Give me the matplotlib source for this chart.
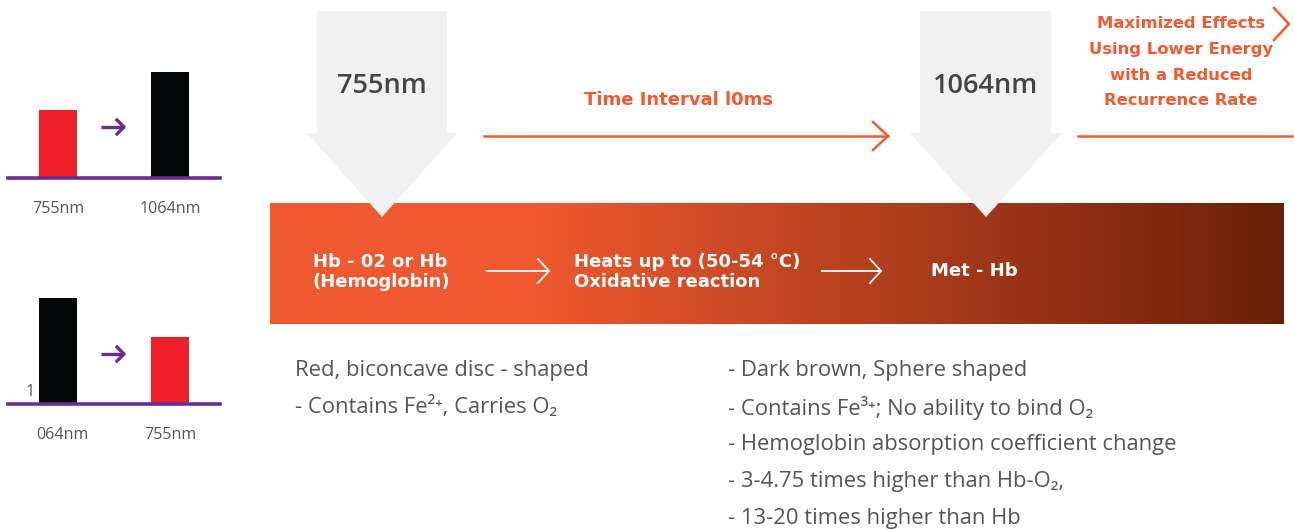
import matplotlib
matplotlib.use("Agg")
import matplotlib.pyplot as plt
import numpy as np
from matplotlib.colors import LinearSegmentedColormap
from matplotlib.patches import Polygon

# ---- data ----
top_labels = ["755nm", "1064nm"]
top_values = [0.64, 1.00]
top_colors = ["#ee1f2b", "#050607"]
bot_labels = ["064nm", "755nm"]
bot_values = [1.00, 0.63]
bot_colors = ["#050607", "#ee1f2b"]

wavelength_a = "755nm"
wavelength_b = "1064nm"
interval_text = "Time Interval l0ms"
effects_text = ["Maximized Effects", "Using Lower Energy", "with a Reduced", "Recurrence Rate"]
stage_texts = ["Hb - 02 or Hb\n(Hemoglobin)", "Heats up to (50-54 °C)\nOxidative reaction", "Met - Hb"]
left_notes = ["Red, biconcave disc - shaped", "- Contains Fe²⁺, Carries O₂"]
right_notes = ["- Dark brown, Sphere shaped",
               "- Contains Fe³⁺; No ability to bind O₂",
               "- Hemoglobin absorption coefficient change",
               "- 3-4.75 times higher than Hb-O₂,",
               "- 13-20 times higher than Hb"]

W, H = 1294, 529
ORANGE = "#f15a31"
PURPLE = "#6a2c8f"
GRAY_TXT = "#555555"
ARROW_GRAY = "#f1f1f2"
FONT_B = ["DejaVu Sans"]
FONT_R = ["Open Sans", "DejaVu Sans"]

fig = plt.figure(figsize=(W / 100, H / 100), dpi=100)
ax = fig.add_axes([0, 0, 1, 1])
ax.set_xlim(0, W)
ax.set_ylim(H, 0)
ax.axis("off")

# ---- gradient band ----
bx0, bx1, by0, by1 = 270, 1284, 203, 324
cmap = LinearSegmentedColormap.from_list(
    "band", [(0, "#f15a31"), (0.26, "#f0592f"), (0.64, "#ab3c1c"), (1.0, "#6a1f07")])
grad = np.linspace(0, 1, 512)[None, :]
ax.imshow(grad, extent=(bx0, bx1, by1, by0), cmap=cmap, aspect="auto", zorder=1)

# ---- grey down arrows ----
def down_arrow(xl, xr, hl, hr, top, neck, tip):
    xc = (hl + hr) / 2
    pts = [(xl, top), (xr, top), (xr, neck), (hr, neck), (xc, tip), (hl, neck), (xl, neck)]
    ax.add_patch(Polygon(pts, closed=True, facecolor=ARROW_GRAY, edgecolor="none", zorder=2))
    return xc

xa = down_arrow(317, 447, 307, 457, 11, 133, 217)
xb = down_arrow(920, 1051, 910, 1062, 11, 133, 217)
ax.text(xa, 86, wavelength_a, ha="center", va="center", fontsize=19.5, color="#454545",
        family=FONT_R, weight="semibold", zorder=3)
ax.text(xb, 86, wavelength_b, ha="center", va="center", fontsize=19.5, color="#454545",
        family=FONT_R, weight="semibold", zorder=3)

# ---- orange timeline ----
ax.text(678, 100, interval_text, ha="center", va="center", fontsize=13, color=ORANGE,
        family=FONT_B, weight="bold", zorder=3)
ax.plot([484, 888], [136, 136], color=ORANGE, lw=1.8, zorder=3)
ax.plot([873, 888, 873], [122, 136, 150], color=ORANGE, lw=1.8, zorder=3)
ax.plot([1078, 1292], [136, 136], color=ORANGE, lw=1.8, zorder=3)
ax.plot([1274, 1289, 1274], [8, 24, 40], color=ORANGE, lw=1.8, zorder=3)
for i, t in enumerate(effects_text):
    ax.text(1181, 24 + 25.6 * i, t, ha="center", va="center", fontsize=11.8, color=ORANGE,
            family=FONT_B, weight="bold", zorder=3)

# ---- band texts ----
ax.text(313, 272, stage_texts[0], ha="left", va="center", fontsize=13, color="white",
        family=FONT_B, weight="bold", linespacing=1.15, zorder=3)
ax.text(574, 272, stage_texts[1], ha="left", va="center", fontsize=13, color="white",
        family=FONT_B, weight="bold", linespacing=1.15, zorder=3)
ax.text(931, 271, stage_texts[2], ha="left", va="center", fontsize=13, color="white",
        family=FONT_B, weight="bold", zorder=3)
for x0, x1 in [(487, 549), (822, 881)]:
    ax.plot([x0, x1], [271, 271], color="white", lw=1.3, zorder=3)
    ax.plot([x1 - 11, x1, x1 - 11], [259, 271, 283], color="white", lw=1.3, zorder=3)

# ---- notes ----
for i, t in enumerate(left_notes):
    ax.text(295, 370.5 + 37 * i, t, ha="left", va="center", fontsize=15.8, color=GRAY_TXT, family=FONT_R)
for i, t in enumerate(right_notes):
    ax.text(728, 370.5 + 37 * i, t, ha="left", va="center", fontsize=15.8, color=GRAY_TXT, family=FONT_R)

# ---- small bar charts ----
def bar_panel(base_y, values, colors):
    x_left, x_right = 8, 220
    height_px = 120
    a = fig.add_axes([x_left / W, (H - base_y) / H, (x_right - x_left) / W, height_px / H])
    unit = 112.0
    lo = -50 / unit
    a.set_xlim(lo, lo + (x_right - x_left) / unit)
    a.set_ylim(0, 1.0 * height_px / 106)
    a.bar(range(len(values)), values, width=38 / unit, color=colors, zorder=2)
    a.axhline(0, color=PURPLE, lw=2.6, clip_on=False, zorder=3)
    a.axis("off")
    return a

def small_arrow(y):
    ax.plot([101, 124], [y, y], color=PURPLE, lw=2.4, zorder=3, solid_capstyle="butt")
    ax.plot([117, 124, 117], [y - 7, y, y + 7], color=PURPLE, lw=2.4, zorder=3)

bar_panel(178, top_values, top_colors)
small_arrow(127)
ax.text(58, 209, top_labels[0], ha="center", va="center", fontsize=11.6, color=GRAY_TXT, family=FONT_R)
ax.text(170, 209, top_labels[1], ha="center", va="center", fontsize=11.6, color=GRAY_TXT, family=FONT_R)

bar_panel(404, bot_values, bot_colors)
small_arrow(354)
ax.text(30, 392, "1", ha="center", va="center", fontsize=11.6, color=GRAY_TXT, family=FONT_R)
ax.text(62, 435, bot_labels[0], ha="center", va="center", fontsize=11.6, color=GRAY_TXT, family=FONT_R)
ax.text(170, 435, bot_labels[1], ha="center", va="center", fontsize=11.6, color=GRAY_TXT, family=FONT_R)

fig.savefig("out.png", dpi=100)
